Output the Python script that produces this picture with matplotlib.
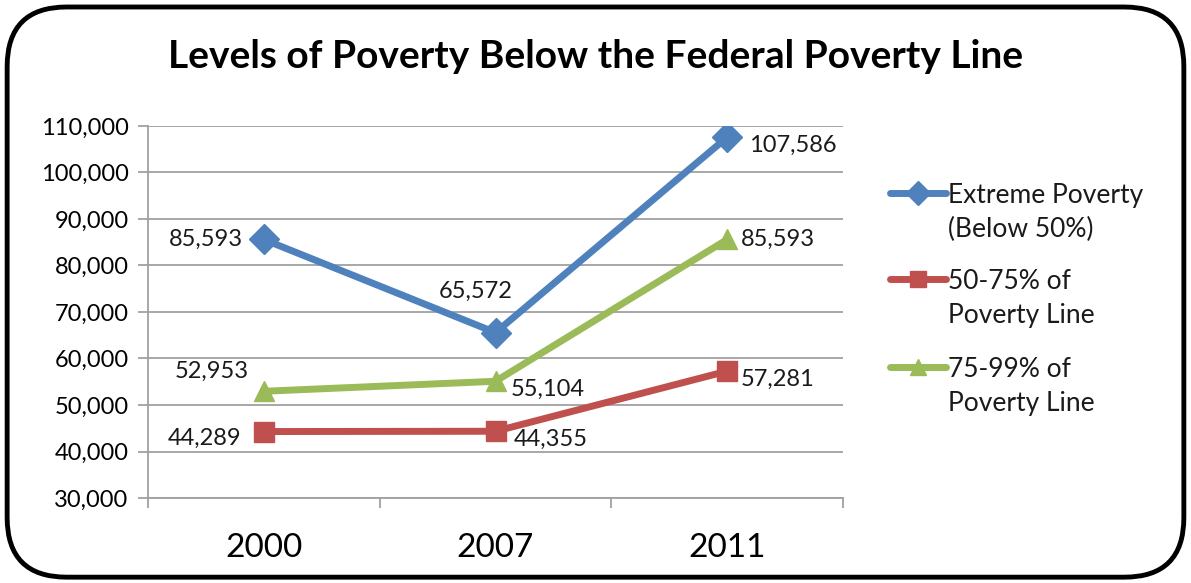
import matplotlib.pyplot as plt
from matplotlib.patches import FancyBboxPatch
from matplotlib.lines import Line2D
from matplotlib.ticker import FuncFormatter, FixedLocator

plt.rcParams['font.family'] = ['Lato', 'DejaVu Sans']

years = ['2000', '2007', '2011']
extreme = [85593, 65572, 107586]
mid = [44289, 44355, 57281]
near = [52953, 55104, 85593]

series_names = ['Extreme Poverty\n(Below 50%)', '50-75% of\nPoverty Line', '75-99% of\nPoverty Line']
colors = ['#4F81BD', '#C0504D', '#9BBB59']
markers = ['D', 's', '^']
msizes = [15, 14, 15]

# label offsets in points: (dx, dy, ha)
offsets = [
    [(-15, 0, 'right'), (-14, 30, 'center'), (16, -6, 'left')],
    [(-16, -5, 'right'), (13, -6, 'left'), (10, -6, 'left')],
    [(-11, 14, 'right'), (11, -6, 'left'), (10, 0, 'left')],
]

W, H = 1191, 583
fig = plt.figure(figsize=(W / 100, H / 100), dpi=100)

# rounded outer frame
frame = FancyBboxPatch((0.006, 0.01), 0.988, 0.978, boxstyle='round,pad=0,rounding_size=0.05',
                       transform=fig.transFigure, fill=False, edgecolor='black', linewidth=3.5,
                       mutation_aspect=W / H)
fig.patches.append(frame)

ax = fig.add_axes([148 / W, 1 - 498 / H, (843 - 148) / W, (498 - 126) / H])
x = list(range(len(years)))
data = [extreme, mid, near]
for vals, c, m, ms, offs in zip(data, colors, markers, msizes, offsets):
    ax.plot(x, vals, color=c, marker=m, markersize=ms, linewidth=5, zorder=3)
    for xi, v, (dx, dy, ha) in zip(x, vals, offs):
        ax.annotate(f'{v:,}', (xi, v), xytext=(dx, dy), textcoords='offset points',
                    ha=ha, va='center', fontsize=17, color='#1a1a1a')

ax.set_xlim(-0.5, 2.5)
ax.set_ylim(30000, 110000)
ax.set_yticks(range(30000, 110001, 10000))
ax.yaxis.set_major_formatter(FuncFormatter(lambda v, p: f'{int(v):,}'))
ax.set_xticks(x)
ax.set_xticklabels(years, fontsize=24)
ax.xaxis.set_minor_locator(FixedLocator([-0.5, 0.5, 1.5, 2.5]))
ax.tick_params(axis='x', which='major', length=0, pad=25)
ax.tick_params(axis='x', which='minor', length=7, color='#a0a0a0', width=1.3)
ax.tick_params(axis='y', length=7, color='#a0a0a0', width=1.3, labelsize=17, pad=7)
ax.grid(axis='y', color='#a0a0a0', linewidth=1.3)
ax.set_axisbelow(True)
for s in ['top', 'right']:
    ax.spines[s].set_visible(False)
for s in ['left', 'bottom']:
    ax.spines[s].set_color('#a0a0a0')
    ax.spines[s].set_linewidth(1.3)

fig.text(0.5, 1 - 57 / H, 'Levels of Poverty Below the Federal Poverty Line', ha='center', va='center',
         fontsize=28, fontweight='bold')

# legend: handle sits on the first text line of each entry
legend_rows = [193, 279, 367]
for name, c, m, ms, row in zip(series_names, colors, markers, msizes, legend_rows):
    yf = 1 - row / H
    fig.add_artist(Line2D([890 / W, 946 / W], [yf, yf], color=c, linewidth=5,
                          solid_capstyle='round', transform=fig.transFigure))
    fig.add_artist(Line2D([918 / W], [yf], color=c, marker=m, markersize=ms * 0.8,
                          transform=fig.transFigure))
    fig.text(948 / W, yf + 10 / H, name, ha='left', va='top', fontsize=19,
             linespacing=1.45, color='#1a1a1a')

fig.savefig('out.png', dpi=100)
